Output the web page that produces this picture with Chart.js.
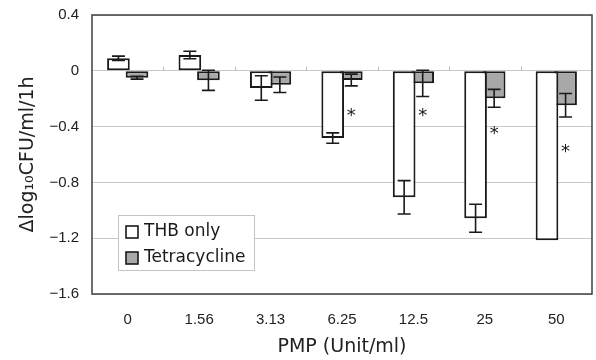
<!DOCTYPE html>
<html>
<head>
<meta charset="utf-8">
<script src="https://cdn.jsdelivr.net/npm/chart.js@4/dist/chart.umd.min.js"></script>
<style>
  html, body { margin: 0; padding: 0; background: #fff; }
  #wrap { width: 596px; height: 360px; }
</style>
</head>
<body>
<div id="wrap"><canvas id="chart" width="596" height="360"></canvas></div>
<script>
const categories = ['0', '1.56', '3.13', '6.25', '12.5', '25', '50'];
const thbOnly = [0.09, 0.113, -0.123, -0.482, -0.907, -1.057, -1.215];
const thbOnlyErr = [0.015, 0.027, 0.088, 0.037, 0.12, 0.1, null];
const tetracycline = [-0.05, -0.068, -0.1, -0.066, -0.09, -0.197, -0.247];
const tetracyclineErr = [0.01, 0.072, 0.056, 0.042, 0.094, 0.064, 0.084];
const significance = [null, null, null, -0.30, -0.30, -0.424, -0.556];
const yTicks = [0.4, 0, -0.4, -0.8, -1.2, -1.6];
const yTickLabels = ['0.4', '0', '\u22120.4', '\u22120.8', '\u22121.2', '\u22121.6'];

const INK = '#1a1a1a';
const GREY_FILL = '#a8a8a8';
const GRID = '#c8c8c8';
const FONT = '"DejaVu Sans", sans-serif';
const TICK_FONT = '"Liberation Sans", Arial, sans-serif';

const errorBars = {
    id: 'errorBars',
    afterDatasetsDraw(chart) {
        const { ctx, scales: { y } } = chart;
        const errs = [thbOnlyErr, tetracyclineErr];
        ctx.save();
        ctx.strokeStyle = INK;
        ctx.lineWidth = 1.6;
        chart.data.datasets.forEach((ds, di) => {
            chart.getDatasetMeta(di).data.forEach((bar, i) => {
                const e = errs[di][i];
                if (e == null) return;
                const v = ds.data[i];
                const top = y.getPixelForValue(v + e);
                const bot = y.getPixelForValue(v - e);
                ctx.beginPath();
                ctx.moveTo(bar.x, top);
                ctx.lineTo(bar.x, bot);
                ctx.moveTo(bar.x - 6.5, top);
                ctx.lineTo(bar.x + 6.5, top);
                ctx.moveTo(bar.x - 6.5, bot);
                ctx.lineTo(bar.x + 6.5, bot);
                ctx.stroke();
            });
        });
        ctx.restore();
    }
};

const stars = {
    id: 'stars',
    afterDatasetsDraw(chart) {
        const { ctx, scales: { y } } = chart;
        const meta = chart.getDatasetMeta(1);
        ctx.save();
        ctx.fillStyle = INK;
        ctx.font = '18px ' + FONT;
        ctx.textAlign = 'center';
        ctx.textBaseline = 'middle';
        significance.forEach((s, i) => {
            if (s == null) return;
            ctx.fillText('*', meta.data[i].x, y.getPixelForValue(s) + 4);
        });
        ctx.restore();
    }
};

const frame = {
    id: 'frame',
    beforeDatasetsDraw(chart) {
        const { ctx, chartArea: { left, right, top, bottom }, scales: { x, y } } = chart;
        const y0 = y.getPixelForValue(0);
        ctx.save();
        // small category ticks on the zero line
        ctx.strokeStyle = '#b8b8b8';
        ctx.lineWidth = 1;
        for (let i = 1; i < categories.length; i++) {
            const bx = Math.round((x.getPixelForValue(i - 1) + x.getPixelForValue(i)) / 2) + 0.5;
            ctx.beginPath();
            ctx.moveTo(bx, y0 - 4);
            ctx.lineTo(bx, y0);
            ctx.stroke();
        }
        ctx.strokeStyle = '#4a4a4a';
        ctx.lineWidth = 1.6;
        ctx.strokeRect(left, top, right - left, bottom - top);
        ctx.restore();
    },
    afterDraw(chart) {
        // legend box inside the plot, lower left
        const { ctx, chartArea: { left, bottom } } = chart;
        const bx = left + 26, by = bottom - 79, bw = 136, bh = 55;
        ctx.save();
        ctx.fillStyle = '#fff';
        ctx.fillRect(bx, by, bw, bh);
        ctx.strokeStyle = '#c4c4c4';
        ctx.lineWidth = 1;
        ctx.strokeRect(bx + 0.5, by + 0.5, bw, bh);
        ctx.font = '17px ' + FONT;
        ctx.textBaseline = 'middle';
        chart.data.datasets.forEach((ds, i) => {
            const cy = by + 17 + i * 26;
            ctx.fillStyle = ds.backgroundColor;
            ctx.fillRect(bx + 8, cy - 6, 12, 12);
            ctx.strokeStyle = INK;
            ctx.lineWidth = 1.6;
            ctx.strokeRect(bx + 8, cy - 6, 12, 12);
            ctx.fillStyle = INK;
            ctx.fillText(ds.label, bx + 26, cy);
        });
        ctx.restore();
    }
};

new Chart(document.getElementById('chart'), {
    type: 'bar',
    data: {
        labels: categories,
        datasets: [
            {
                label: 'THB only',
                data: thbOnly,
                backgroundColor: '#ffffff',
                borderColor: INK,
                borderWidth: 2,
                borderSkipped: false
            },
            {
                label: 'Tetracycline',
                data: tetracycline,
                backgroundColor: GREY_FILL,
                borderColor: INK,
                borderWidth: 2,
                borderSkipped: false
            }
        ]
    },
    options: {
        responsive: false,
        animation: false,
        categoryPercentage: 0.52,
        barPercentage: 1.22,
        layout: { padding: { top: 15, right: 4, left: 0, bottom: 0 } },
        plugins: {
            legend: { display: false },
            tooltip: { enabled: false }
        },
        scales: {
            x: {
                grid: { display: false },
                border: { display: false },
                ticks: { color: '#222', padding: 9, font: { family: TICK_FONT, size: 15 } },
                title: {
                    display: true,
                    text: 'PMP (Unit/ml)',
                    color: '#222',
                    font: { family: FONT, size: 19 },
                    padding: { top: 0, bottom: 2 }
                },
                afterFit(scale) { scale.height = 66; }
            },
            y: {
                min: -1.6,
                max: 0.4,
                grid: { color: GRID, drawTicks: true, tickLength: 13, tickColor: 'rgba(0,0,0,0)', lineWidth: 1 },
                border: { display: false },
                afterBuildTicks(scale) { scale.ticks = yTicks.map(v => ({ value: v })); },
                ticks: {
                    color: '#222',
                    padding: 0,
                    font: { family: TICK_FONT, size: 15 },
                    callback: v => yTickLabels[yTicks.indexOf(v)]
                },
                title: {
                    display: true,
                    text: '\u0394log\u2081\u2080CFU/ml/1h',
                    color: '#222',
                    font: { family: FONT, size: 19 },
                    padding: { top: 17, bottom: 0 }
                },
                afterFit(scale) { scale.width = 92; }
            }
        }
    },
    plugins: [frame, errorBars, stars]
});
</script>
</body>
</html>
